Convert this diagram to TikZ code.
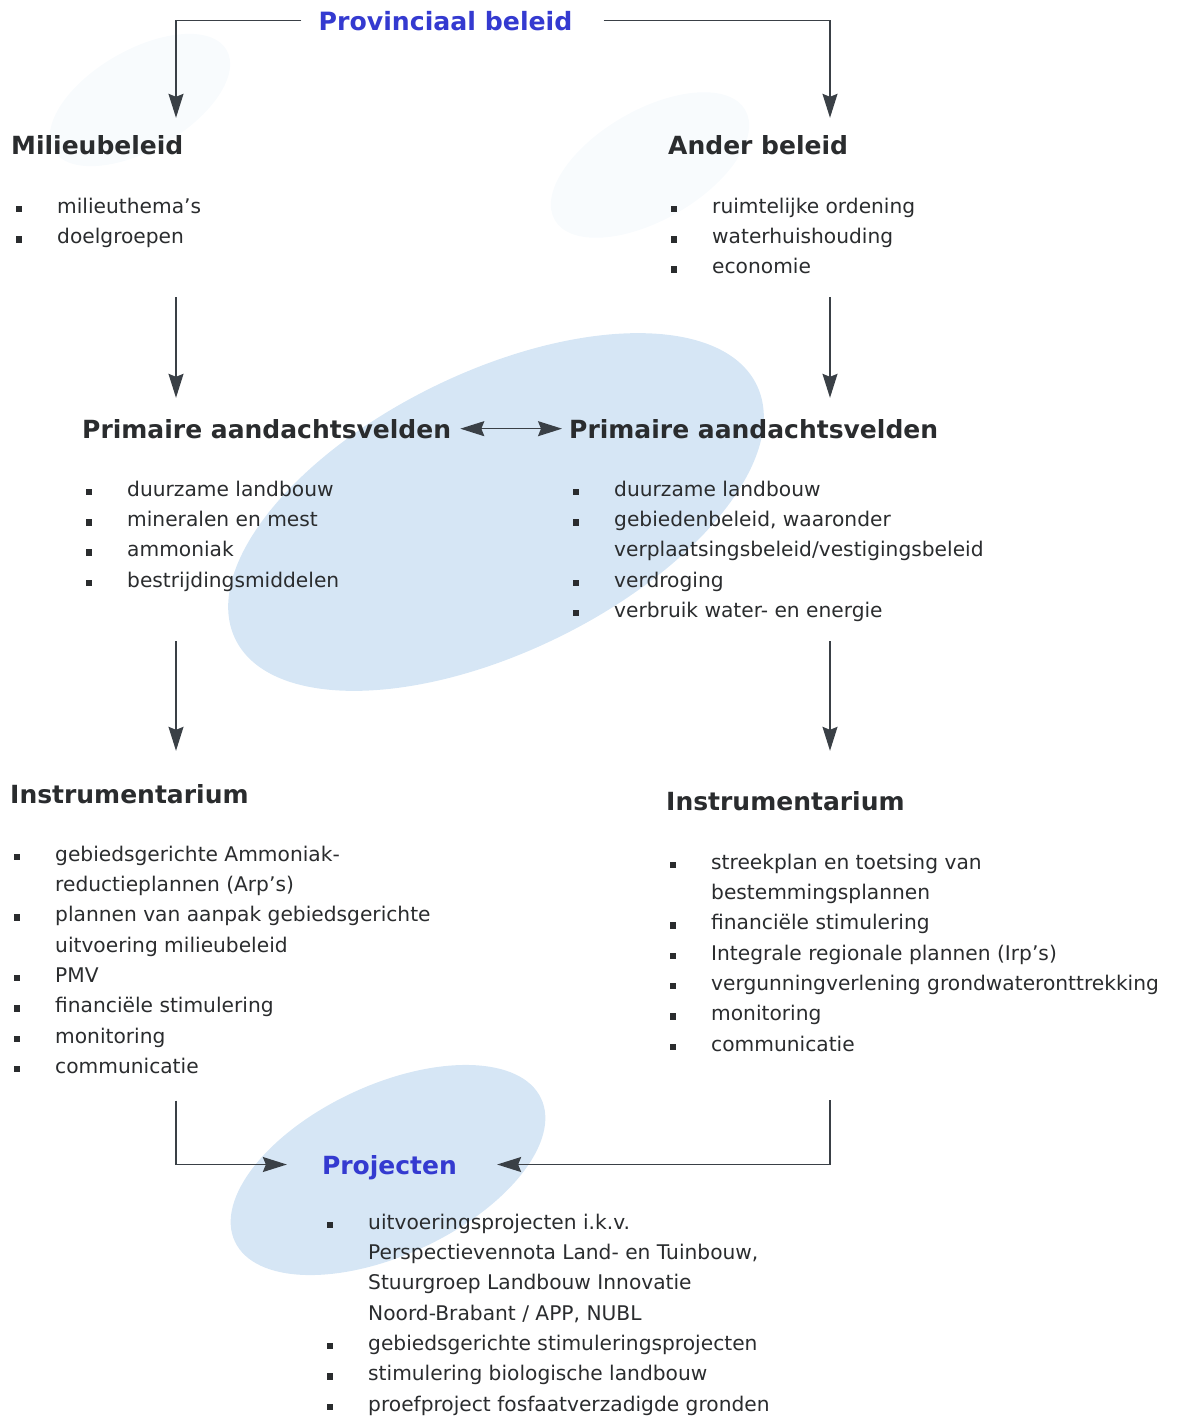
\documentclass[tikz,border=0pt]{standalone}
\usepackage{fontspec}
\setmainfont{DejaVu Sans}
\usepackage{xcolor}
\usepackage{tikz}
\usetikzlibrary{arrows.meta,positioning}

\definecolor{provblue}{RGB}{52,58,208}
\definecolor{txtgray}{RGB}{42,44,46}
\definecolor{arrgray}{RGB}{58,64,70}
\definecolor{blobblue}{RGB}{214,230,245}
\definecolor{faintblue}{RGB}{248,251,253}

\newcommand{\itm}{\llap{\rule[1pt]{6.5pt}{6.5pt}\hspace{35pt}}\strut}

\begin{document}
\begin{tikzpicture}[x=1pt, y=-1pt, >={Stealth[length=24pt,width=15pt,inset=3pt]},
        kop/.style={font=\fontsize{25}{30}\selectfont\bfseries, text=txtgray, inner sep=0pt, anchor=base west},
        blauw/.style={kop, text=provblue, anchor=base},
        lijst/.style={font=\fontsize{20.2}{30.3}\selectfont, text=txtgray, inner sep=0pt, anchor=north west, align=left},
        pijl/.style={->, draw=arrgray, line width=1.3pt}]

        \useasboundingbox (0,0) rectangle (1176,1417);

        % achtergrond
        \fill[faintblue, rotate around={30:(140,100)}] (140,100) ellipse (100 and 50);
        \fill[faintblue, rotate around={30:(650,165)}] (650,165) ellipse (110 and 55);
        \fill[blobblue, rotate around={26:(496,512)}] (496,512) ellipse (290 and 140);
        \fill[blobblue, rotate around={25:(388,1170)}] (388,1170) ellipse (169 and 85);

        \coordinate (kolL) at (176,0);
        \coordinate (kolR) at (830,0);

        \node[blauw, font=\fontsize{25.2}{30}\selectfont\bfseries, inner xsep=17pt] (prov) at (445.5,30) {Provinciaal beleid};

        \node[kop] (milieu) at (11,154) {Milieubeleid};
        \node[lijst] (mlijst) at (57,191.8) {\itm milieuthema’s\\ \itm doelgroepen};

        \node[kop] (ander) at (668,154) {Ander beleid};
        \node[lijst] (alijst) at (712,191.8) {\itm ruimtelijke ordening\\ \itm waterhuishouding\\ \itm economie};

        \node[kop] (primL) at (82,438) {Primaire aandachtsvelden};
        \node[lijst] (plijstL) at (127,474.8) {\itm duurzame landbouw\\ \itm mineralen en mest\\ \itm ammoniak\\ \itm bestrijdingsmiddelen};

        \node[kop] (primR) at (569,438) {Primaire aandachtsvelden};
        \node[lijst] (plijstR) at (614,474.8) {\itm duurzame landbouw\\ \itm gebiedenbeleid, waaronder\\ verplaatsingsbeleid/vestigingsbeleid\\ \itm verdroging\\ \itm verbruik water- en energie};

        \node[kop] (instrL) at (10,803) {Instrumentarium};
        \node[lijst] (ilijstL) at (55,839.8) {\itm gebiedsgerichte Ammoniak-\\ reductieplannen (Arp’s)\\ \itm plannen van aanpak gebiedsgerichte\\ uitvoering milieubeleid\\ \itm PMV\\ \itm financiële stimulering\\ \itm monitoring\\ \itm communicatie};

        \node[kop] (instrR) at (666,810) {Instrumentarium};
        \node[lijst] (ilijstR) at (711,847.8) {\itm streekplan en toetsing van\\ bestemmingsplannen\\ \itm financiële stimulering\\ \itm Integrale regionale plannen (Irp’s)\\ \itm vergunningverlening grondwateronttrekking\\ \itm monitoring\\ \itm communicatie};

        \node[blauw, inner xsep=35pt, text depth=0pt] (proj) at (389.5,1174) {Projecten};
        \node[lijst] (projlijst) at (368,1207.8) {\itm uitvoeringsprojecten i.k.v.\\ Perspectievennota Land- en Tuinbouw,\\ Stuurgroep Landbouw Innovatie\\ Noord-Brabant / APP, NUBL\\ \itm gebiedsgerichte stimuleringsprojecten\\ \itm stimulering biologische landbouw\\ \itm proefproject fosfaatverzadigde gronden};

        \draw[pijl, shorten >=17pt] (prov.west) -| (kolL |- milieu.north);
        \draw[pijl, shorten <=14pt, shorten >=17pt] (prov.east) -| (kolR |- ander.north);

        \draw[pijl, shorten <=44.6pt, shorten >=21pt] (kolL |- mlijst.south) -- (kolL |- primL.north);
        \draw[pijl, shorten <=14.3pt, shorten >=21pt] (kolR |- alijst.south) -- (kolR |- primR.north);

        \draw[pijl, <->, shorten <=9pt, shorten >=7pt] (primL.east) -- (primR.west);

        \draw[pijl, shorten <=45pt, shorten >=33pt] (kolL |- plijstL.south) -- (kolL |- instrL.north);
        \draw[pijl, shorten <=14.7pt, shorten >=40pt] (kolR |- plijstR.south) -- (kolR |- instrR.north);

        \draw[pijl, shorten <=18pt] (kolL |- ilijstL.south) |- (proj.west);
        \draw[pijl, shorten <=40pt, shorten >=5pt] (kolR |- ilijstR.south) |- (proj.east);

    \end{tikzpicture}
\end{document}
